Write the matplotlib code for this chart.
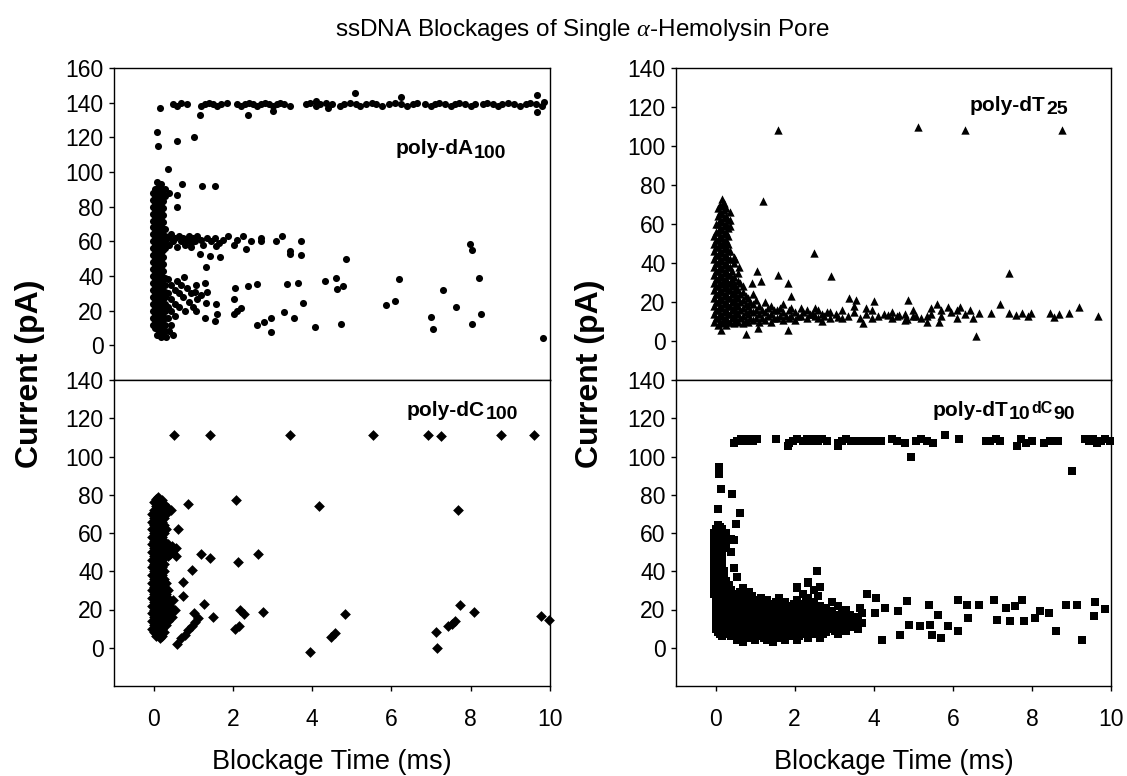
import matplotlib
matplotlib.use('Agg')
import matplotlib.pyplot as plt

plt.rcParams['font.family'] = ['Liberation Sans', 'DejaVu Sans']
plt.rcParams['mathtext.fontset'] = 'custom'
plt.rcParams['mathtext.rm'] = 'Liberation Sans'
plt.rcParams['mathtext.it'] = 'Liberation Serif:italic'

# ---------------- poly-dA100 (circles) ----------------
da_core_cols = [
    (-0.02, [12, 16, 20, 24, 28, 32, 36, 40, 44, 48, 52, 56, 60, 64, 68, 72, 76, 80, 84, 88]),
    (0.03, [10, 14, 18, 22, 26, 30, 34, 38, 42, 46, 50, 54, 58, 62, 66, 70, 74, 78, 82, 86, 90]),
    (0.08, [6, 10, 14, 18, 22, 26, 30, 34, 38, 42, 46, 50, 54, 58, 62, 66, 70, 74, 78, 82, 86, 90, 94]),
    (0.13, [8, 12, 16, 20, 24, 28, 32, 36, 40, 44, 48, 52, 56, 60, 64, 68, 72, 76, 80, 84, 88, 92]),
    (0.18, [5, 9, 13, 17, 21, 25, 29, 33, 37, 41, 45, 49, 53, 57, 61, 65, 69, 73, 77, 81, 85, 89, 93]),
    (0.23, [7, 11, 15, 19, 23, 27, 31, 35, 39, 43, 47, 51, 55, 59, 63, 67, 71, 75, 79, 83, 87]),
    (0.28, [8, 12, 16, 20, 24, 28, 31, 35, 39, 56, 60, 63, 67, 86, 90]),
]
da_band60 = [(0.35, 62), (0.4, 58), (0.45, 64), (0.5, 60), (0.55, 62), (0.6, 57), (0.65, 63),
             (0.7, 60), (0.75, 62), (0.8, 58), (0.85, 61), (0.9, 63), (0.95, 59), (1.0, 62),
             (1.05, 60), (1.1, 63), (1.2, 61), (1.25, 58), (1.35, 62), (1.45, 60), (1.55, 62),
             (1.65, 59), (1.75, 61), (1.88, 63), (2.02, 58), (2.1, 61), (2.25, 63), (2.34, 55.5),
             (2.45, 60), (2.7, 62), (2.72, 60), (3.08, 60), (3.24, 63), (3.44, 54.5), (3.44, 52.6),
             (3.72, 60), (3.73, 52), (0.94, 56.5), (1.16, 52.6), (1.43, 51.7), (1.68, 50.7),
             (1.33, 45.3), (1.57, 57.5), (4.86, 49.7), (7.97, 58.4), (8.02, 55)]
da_band30 = [(0.35, 38), (0.35, 30), (0.35, 22), (0.35, 16), (0.45, 35), (0.45, 27), (0.45, 20),
             (0.45, 12), (0.55, 32), (0.55, 24), (0.55, 17), (0.65, 30), (0.65, 22), (0.7, 35),
             (0.75, 28), (0.8, 20), (0.85, 33), (0.9, 25), (0.95, 30), (1.0, 22), (1.05, 31),
             (1.1, 27), (1.2, 29), (1.3, 36), (1.34, 31), (1.33, 24.6), (1.57, 24), (1.07, 19.7),
             (1.3, 15.9), (1.54, 14.3), (1.61, 17.8), (0.76, 39.7), (0.58, 37), (1.07, 35),
             (0.4, 8), (0.3, 5), (0.5, 6)]
da_sparse = [(2.02, 26.5), (2.02, 17.8), (2.2, 21.7), (2.1, 20), (2.06, 32.9), (2.38, 34.2),
             (2.6, 35.2), (2.6, 11.6), (2.79, 13.5), (2.97, 15.9), (2.97, 7.7), (3.29, 19.3),
             (3.37, 35.2), (3.64, 36.2), (3.53, 15.5), (3.78, 24.2), (4.08, 10.4), (4.32, 37.1),
             (4.59, 39), (4.63, 32.3), (4.77, 34.2), (4.72, 12.4), (5.85, 23.2), (6.1, 25.5),
             (6.19, 38.1), (7.0, 16.4), (7.04, 9.5), (7.29, 31.9), (7.63, 22.2), (8.02, 12.4),
             (8.2, 38.9), (8.27, 18.2), (9.82, 4.3),
             (0.17, 137), (0.08, 123), (0.1, 115), (0.6, 118), (1.03, 120), (0.35, 102),
             (0.71, 93), (1.21, 92), (1.54, 92), (0.58, 86.5), (0.6, 80), (0.4, 88)]
da_top = [(0.5, 139), (0.6, 138), (0.7, 140), (0.85, 139), (1.2, 138), (1.3, 139), (1.4, 140),
          (1.5, 139), (1.6, 138), (1.7, 139), (1.85, 140), (2.1, 139), (2.2, 138), (2.3, 139),
          (2.4, 140), (2.5, 139), (2.6, 138), (2.7, 139), (2.8, 140), (2.9, 139), (3.0, 138),
          (3.1, 139), (3.2, 140), (3.3, 139), (3.45, 138), (3.85, 139), (3.95, 140), (4.1, 138),
          (4.2, 139), (4.35, 140), (4.5, 139), (4.7, 138), (4.8, 139), (4.95, 140), (5.1, 139),
          (5.2, 138), (5.35, 139), (5.5, 140), (5.6, 139), (5.75, 138), (5.95, 139), (6.1, 140),
          (6.25, 139), (6.4, 138), (6.55, 139), (6.65, 140), (6.85, 139), (7.0, 138), (7.1, 139),
          (7.2, 140), (7.35, 139), (7.5, 138), (7.6, 139), (7.7, 140), (7.85, 139), (8.0, 138),
          (8.1, 139), (8.3, 139), (8.4, 140), (8.55, 139), (8.7, 138), (8.8, 139), (8.95, 140),
          (9.1, 139), (9.25, 138), (9.4, 139), (9.5, 140), (9.65, 139), (9.8, 138),
          (5.09, 145.5), (6.24, 143.5), (9.68, 144.5), (9.68, 134.8), (1.16, 133), (2.38, 133),
          (3.0, 135), (4.1, 141), (4.4, 137), (9.85, 140.5)]

# ---------------- poly-dT25 (triangles) ----------------
dt_core_cols = [
    (-0.03, [10, 14, 18, 22, 26, 30, 34, 38, 42, 46, 50, 54]),
    (0.02, [12, 16, 20, 24, 28, 32, 36, 40, 44, 48, 52, 56, 60]),
    (0.07, [8, 12, 16, 20, 24, 28, 32, 36, 40, 44, 48, 52, 56, 60, 64, 68]),
    (0.12, [10, 14, 18, 22, 26, 30, 34, 38, 42, 46, 50, 54, 58, 62, 66, 70]),
    (0.17, [9, 13, 17, 21, 25, 29, 33, 37, 41, 45, 49, 53, 57, 61, 65, 69, 73]),
    (0.22, [11, 15, 19, 23, 27, 31, 35, 39, 43, 47, 51, 55, 59, 63, 67, 71]),
    (0.27, [8, 12, 16, 20, 24, 28, 32, 36, 40, 44, 48, 52, 56, 60, 64, 68]),
    (0.32, [10, 14, 18, 22, 26, 30, 34, 38, 42, 46, 50, 54, 58, 62]),
    (0.37, [10, 14, 18, 22, 26, 30, 34, 38, 42, 46, 59, 62, 66]),
    (0.42, [12, 16, 20, 24, 28, 32, 36]),
    (0.47, [9, 13, 17, 21, 25, 29, 33, 40, 43]),
    (0.52, [11, 15, 19, 23, 27]),
    (0.57, [10, 14, 18, 22, 26, 31, 35]),
    (0.63, [12, 16, 20, 24, 30]),
    (0.7, [9, 13, 17, 21, 25, 28]),
    (0.76, [11, 15, 19, 23]),
    (0.82, [10, 14, 18, 22]),
    (0.88, [12, 16, 20]),
    (0.95, [11, 15, 19, 24]),
    (1.02, [12, 16, 21]),
    (1.1, [10, 14, 18]), (1.18, [12, 16]), (1.25, [11, 15, 20]), (1.32, [13, 17]),
    (1.4, [10, 14, 18]), (1.48, [12, 16]), (1.55, [12, 16]), (1.62, [13, 17]),
    (1.7, [11, 15, 19]), (1.78, [13]), (1.85, [12, 16]), (1.92, [13, 17]), (2.0, [11, 15]),
    (2.08, [13]), (2.15, [13, 17]), (2.22, [15]), (2.3, [12, 16]), (2.38, [14]),
    (2.45, [14]), (2.52, [13, 17]), (2.6, [12, 16]), (2.68, [14]), (2.75, [13]),
    (2.82, [15]), (2.9, [12, 15]),
    (3.05, [14]), (3.2, [12, 16]), (3.35, [13]), (3.5, [15, 18]), (3.65, [12]),
    (3.8, [14, 17]), (3.95, [12, 16]), (4.1, [13]), (4.25, [14]), (4.45, [12, 15]),
    (4.6, [13]), (4.8, [11, 14]), (5.0, [13, 16]), (5.2, [12]), (5.45, [14, 17]),
    (5.7, [13, 16]), (5.95, [15]), (6.1, [12, 16]), (6.3, [14]), (6.5, [12]),
]
dt_sparse = [(1.59, 108.3), (5.11, 109.5), (6.32, 108.3), (8.77, 108.3), (1.2, 72),
             (2.49, 45.2), (2.92, 33.2), (1.57, 34.1), (1.04, 36), (1.82, 30), (1.15, 30.7),
             (0.91, 29.8), (1.91, 23), (7.42, 35), (7.19, 19.2), (4.86, 21.2), (0.77, 3.4),
             (0.13, 5.8), (1.08, 6.9), (1.82, 5.8), (6.59, 2.4), (0.5, 42), (0.6, 38),
             (9.68, 12.9), (9.18, 17.5), (8.95, 14.6), (8.68, 14), (8.46, 14.6), (7.98, 14.6),
             (7.76, 14.6), (7.42, 14.6), (6.97, 14.6), (6.66, 14.6), (6.44, 15.8), (6.19, 17.5),
             (5.89, 17.5), (5.6, 19.2), (5.34, 12.9), (5.34, 9.8), (5.65, 9.8), (5.06, 12.9),
             (4.84, 11.5), (4.65, 13.2), (4.37, 13.2), (4.0, 20.6), (3.74, 9.3), (3.56, 20.9),
             (3.37, 22.3), (3.09, 12.3), (2.69, 10.3), (2.46, 14), (7.9, 13), (7.6, 13.5),
             (8.55, 12.5)]

# ---------------- poly-dC100 (diamonds) ----------------
dc_core_cols = [
    (-0.03, [10, 14, 18, 22, 26, 30, 34, 38, 42, 46, 50, 54, 58, 62, 66, 70]),
    (0.02, [8, 12, 16, 20, 24, 28, 32, 36, 40, 44, 48, 52, 56, 60, 64, 68, 72, 76]),
    (0.07, [6, 10, 14, 18, 22, 26, 30, 34, 38, 42, 46, 50, 54, 58, 62, 66, 70, 74, 78]),
    (0.12, [7, 11, 15, 19, 23, 27, 31, 35, 39, 43, 47, 51, 55, 59, 63, 67, 71, 75, 79]),
    (0.17, [5, 9, 13, 17, 21, 25, 29, 33, 37, 41, 45, 49, 53, 57, 61, 65, 69, 73, 77]),
    (0.22, [6, 10, 14, 18, 22, 26, 30, 34, 38, 42, 46, 50, 54, 58, 62, 66, 70, 74, 77]),
    (0.27, [8, 12, 16, 20, 24, 28, 32, 36, 40, 44, 48, 52, 56, 60, 64, 68, 72, 75]),
    (0.32, [12, 16, 20, 24, 28, 34, 50, 54, 62, 70]),
    (0.37, [14, 18, 22, 26, 30, 48, 51, 54, 73]),
    (0.42, [18, 22, 49, 52]),
    (0.47, [16, 20, 50, 53]),
    (0.57, [48, 52]),
]
dc_sparse = [(0.51, 111.3), (1.41, 111.3), (3.44, 111.3), (5.53, 111.3), (6.91, 111.3),
             (7.25, 110.5), (8.76, 111.3), (9.59, 111.3),
             (0.87, 75.3), (2.09, 77), (4.16, 74.1), (7.69, 71.9), (0.62, 62), (1.19, 48.8),
             (1.41, 46.8), (2.14, 44.7), (2.63, 48.8), (0.96, 40.7), (0.74, 34.6), (0.74, 27.2),
             (1.28, 23), (1.01, 18.2), (1.12, 15.6), (1.49, 16.1), (2.18, 19.6), (2.27, 17.8),
             (2.75, 18.7), (2.05, 10), (2.15, 11.3), (0.6, 1.7), (0.69, 5.2), (0.78, 6.9),
             (0.87, 9.2), (0.96, 11.3), (1.05, 13.5), (3.94, -2), (4.48, 5.5), (4.57, 7.8),
             (4.84, 17.8), (7.12, 8.1), (7.16, 0), (7.43, 11.3), (7.52, 12.5), (7.61, 13.9),
             (7.72, 22.2), (8.08, 18.7), (9.77, 16.5), (9.98, 14.4), (0.45, 72), (0.5, 25),
             (0.55, 20)]

# ---------------- poly-dT10dC90 (squares) ----------------
dtc_core_cols = [
    (-0.03, [28, 32, 36, 40, 44, 48, 52, 56, 60]),
    (0.02, [10, 14, 18, 22, 26, 30, 34, 38, 42, 46, 50, 54, 58, 62]),
    (0.07, [8, 12, 16, 20, 24, 28, 32, 36, 40, 44, 48, 52, 56, 60, 64]),
    (0.12, [7, 11, 15, 19, 23, 27, 31, 35, 39, 43, 47, 51, 55, 59, 63]),
    (0.17, [6, 10, 14, 18, 22, 26, 30, 34, 38, 42, 46, 50, 54, 58, 62]),
    (0.22, [8, 12, 16, 20, 24, 28, 32, 36, 40, 54, 58]),
    (0.27, [7, 11, 15, 19, 23, 27, 31, 35, 52, 56, 60]),
    (0.33, [8, 12, 16, 20, 24, 28, 33]),
    (0.4, [6, 10, 14, 18, 22, 26, 30, 50, 57]),
    (0.47, [8, 12, 16, 20, 24, 28]),
    (0.55, [4, 8, 12, 16, 20, 24, 28]),
    (0.62, [5, 9, 13, 17, 21, 25, 29]),
    (0.7, [3, 7, 11, 15, 19, 23, 27, 31]),
    (0.78, [5, 9, 13, 17, 21, 25, 28]),
    (0.85, [5, 9, 13, 17, 21, 25, 29]),
    (0.92, [7, 11, 15, 19, 23, 27]),
    (1.0, [4, 8, 12, 16, 20, 24]),
    (1.08, [6, 10, 14, 18, 22, 25]),
    (1.15, [6, 10, 14, 18, 22, 26]),
    (1.22, [5, 9, 13, 17, 21, 24]),
    (1.3, [4, 8, 12, 16, 20, 25]),
    (1.38, [6, 10, 14, 18, 22]),
    (1.45, [3, 7, 11, 15, 19, 23]),
    (1.52, [5, 9, 13, 17, 21, 24]),
    (1.6, [5, 9, 13, 17, 21, 26]),
    (1.68, [6, 10, 14, 18, 22]),
    (1.75, [4, 8, 12, 16, 20, 24]),
    (1.82, [6, 10, 14, 18, 22]),
    (1.9, [6, 10, 14, 18, 22]),
    (1.98, [6, 10, 14, 18, 23]),
    (2.05, [4, 8, 12, 16, 20, 25, 31]),
    (2.12, [6, 10, 14, 18, 21]),
    (2.2, [7, 11, 15, 19, 23, 28]),
    (2.28, [7, 11, 15, 19, 24]),
    (2.35, [5, 9, 13, 17, 21, 26, 34]),
    (2.42, [7, 11, 15, 19, 22]),
    (2.5, [7, 11, 15, 19, 24, 30]),
    (2.58, [8, 12, 16, 20, 27]),
    (2.65, [5, 10, 14, 18, 22, 32]),
    (2.72, [7, 11, 16, 20]),
    (2.8, [8, 12, 16, 21]),
    (2.88, [10, 14, 18]),
    (2.95, [10, 14, 19, 24]),
    (3.02, [9, 13, 17]),
    (3.1, [7, 12, 17, 22]),
    (3.2, [10, 15, 19]),
    (3.3, [9, 14, 20]),
    (3.4, [12, 17]),
    (3.5, [11, 16]),
    (3.6, [10, 15]),
    (3.7, [13, 18]),
]
dtc_sparse = [(0.09, 94.4), (0.09, 90.9), (0.06, 72.7), (0.14, 83.1), (0.41, 80.5),
              (0.62, 70.5), (0.52, 64.6), (0.46, 56.3), (0.46, 41.6), (0.55, 36.9),
              (4.93, 99.6), (9.02, 92.6), (7.63, 105.6), (1.83, 105.6), (3.1, 105.6),
              (2.56, 40.2), (2.33, 34.6), (2.05, 31.7), (2.65, 32), (3.84, 28), (4.06, 26),
              (3.65, 20.8), (4.02, 18.2), (4.29, 20.8), (4.61, 19), (4.84, 24.2), (4.89, 12.1),
              (5.16, 11.3), (5.43, 12.1), (5.39, 22.5), (5.62, 17.3), (5.48, 6.9), (5.71, 5.2),
              (5.89, 11.3), (6.12, 8.7), (6.12, 25.1), (6.35, 22.5), (6.39, 15.6), (6.67, 22.5),
              (7.03, 25.1), (7.12, 14.7), (7.44, 13.9), (7.35, 20.8), (7.76, 25.1), (7.58, 21.6),
              (7.8, 13.9), (8.07, 15.6), (8.2, 19), (8.43, 18.2), (8.61, 8.7), (8.86, 22.5),
              (9.13, 22.5), (9.27, 4.3), (9.59, 23.9), (9.57, 16.5), (9.86, 20.3), (4.66, 6.9),
              (4.2, 4.3)]
dtc_top = [(0.46, 107), (0.55, 108), (0.65, 109), (0.75, 108), (0.85, 109), (0.95, 108),
           (1.05, 109), (1.53, 109), (1.85, 107), (1.95, 108), (2.05, 109), (2.2, 108),
           (2.3, 109), (2.4, 108), (2.5, 109), (2.6, 108), (2.7, 109), (2.82, 108), (3.1, 107),
           (3.2, 108), (3.3, 109), (3.42, 108), (3.55, 108), (3.65, 108), (3.8, 108),
           (3.92, 108), (4.05, 108), (4.18, 108), (4.45, 109), (4.6, 108), (4.78, 107),
           (5.07, 108), (5.2, 109), (5.35, 108), (5.5, 107), (5.8, 111), (6.16, 109),
           (6.85, 108), (6.95, 108), (7.1, 109), (7.2, 108), (7.72, 109), (7.85, 107),
           (8.0, 108), (8.3, 107), (8.45, 108), (8.65, 108), (9.35, 109), (9.45, 108),
           (9.55, 109), (9.65, 107), (9.75, 108), (9.85, 109), (9.97, 108)]


def expand(cols):
    return [(x, y) for x, ys in cols for y in ys]


W, H = 1127, 776
fig = plt.figure(figsize=(W / 100, H / 100), dpi=100)

fig.text(582 / W, 1 - 30 / H, r'ssDNA Blockages of Single $\alpha$-Hemolysin Pore',
         ha='center', va='center', fontsize=17.5)


def panel(rect, pts, marker, size, ylim, yticks, bottom):
    ax = fig.add_axes(rect)
    xs = [p[0] for p in pts]
    ys = [p[1] for p in pts]
    ax.scatter(xs, ys, marker=marker, s=size, c='black', linewidths=0, clip_on=False)
    ax.set_xlim(-1, 10)
    ax.set_ylim(*ylim)
    ax.set_yticks(yticks)
    ax.set_xticks([0, 2, 4, 6, 8, 10])
    ax.tick_params(direction='out', length=3.5, width=1, labelsize=16.5, pad=4)
    if not bottom:
        ax.tick_params(axis='x', bottom=False, labelbottom=False)
    else:
        ax.tick_params(axis='x', pad=12)
        ax.set_xlabel('Blockage Time (ms)', fontsize=19.5, labelpad=13)
    for s in ax.spines.values():
        s.set_linewidth(1.0)
    return ax


def label(ax, x, y, parts):
    t = ax.text(x, y, parts[0], transform=ax.transAxes, fontsize=15,
                fontweight='bold', va='bottom')
    prev = t
    for s, dy, fs in parts[1:]:
        prev = ax.annotate(s, xy=(1, 0), xycoords=(prev, t), xytext=(0.5, dy),
                           textcoords='offset points', fontsize=fs,
                           fontweight='bold', va='bottom')


lx, lw = 114 / W, 436 / W
rx, rw = 676 / W, 435 / W
ty, th = 1 - 380 / H, 312 / H
by, bh = 1 - 686 / H, 306 / H

ax1 = panel([lx, ty, lw, th], expand(da_core_cols) + da_band60 + da_band30 + da_sparse + da_top,
            'o', 26, (-20, 160), range(0, 161, 20), False)
label(ax1, 0.645, 0.71, ['poly-dA', ('100', -2.5, 14)])

ax2 = panel([rx, ty, rw, th], expand(dt_core_cols) + dt_sparse,
            '^', 36, (-20, 140), range(0, 141, 20), False)
label(ax2, 0.675, 0.85, ['poly-dT', ('25', -2.5, 14)])

ax3 = panel([lx, by, lw, bh], expand(dc_core_cols) + dc_sparse,
            'D', 30, (-20, 140), range(0, 141, 20), True)
label(ax3, 0.672, 0.87, ['poly-dC', ('100', -2.5, 14)])

ax4 = panel([rx, by, rw, bh], expand(dtc_core_cols) + dtc_sparse + dtc_top,
            's', 30, (-20, 140), range(0, 141, 20), True)
label(ax4, 0.59, 0.87, ['poly-dT', ('10', -2.5, 14), ('dC', 2.5, 11.5), ('90', -2.5, 14)])

for xc in (30, 590):
    fig.text(xc / W, 1 - 374 / H, 'Current (pA)', rotation=90, ha='center', va='center',
             fontsize=23, fontweight='bold')

fig.savefig('out.png', dpi=100)
